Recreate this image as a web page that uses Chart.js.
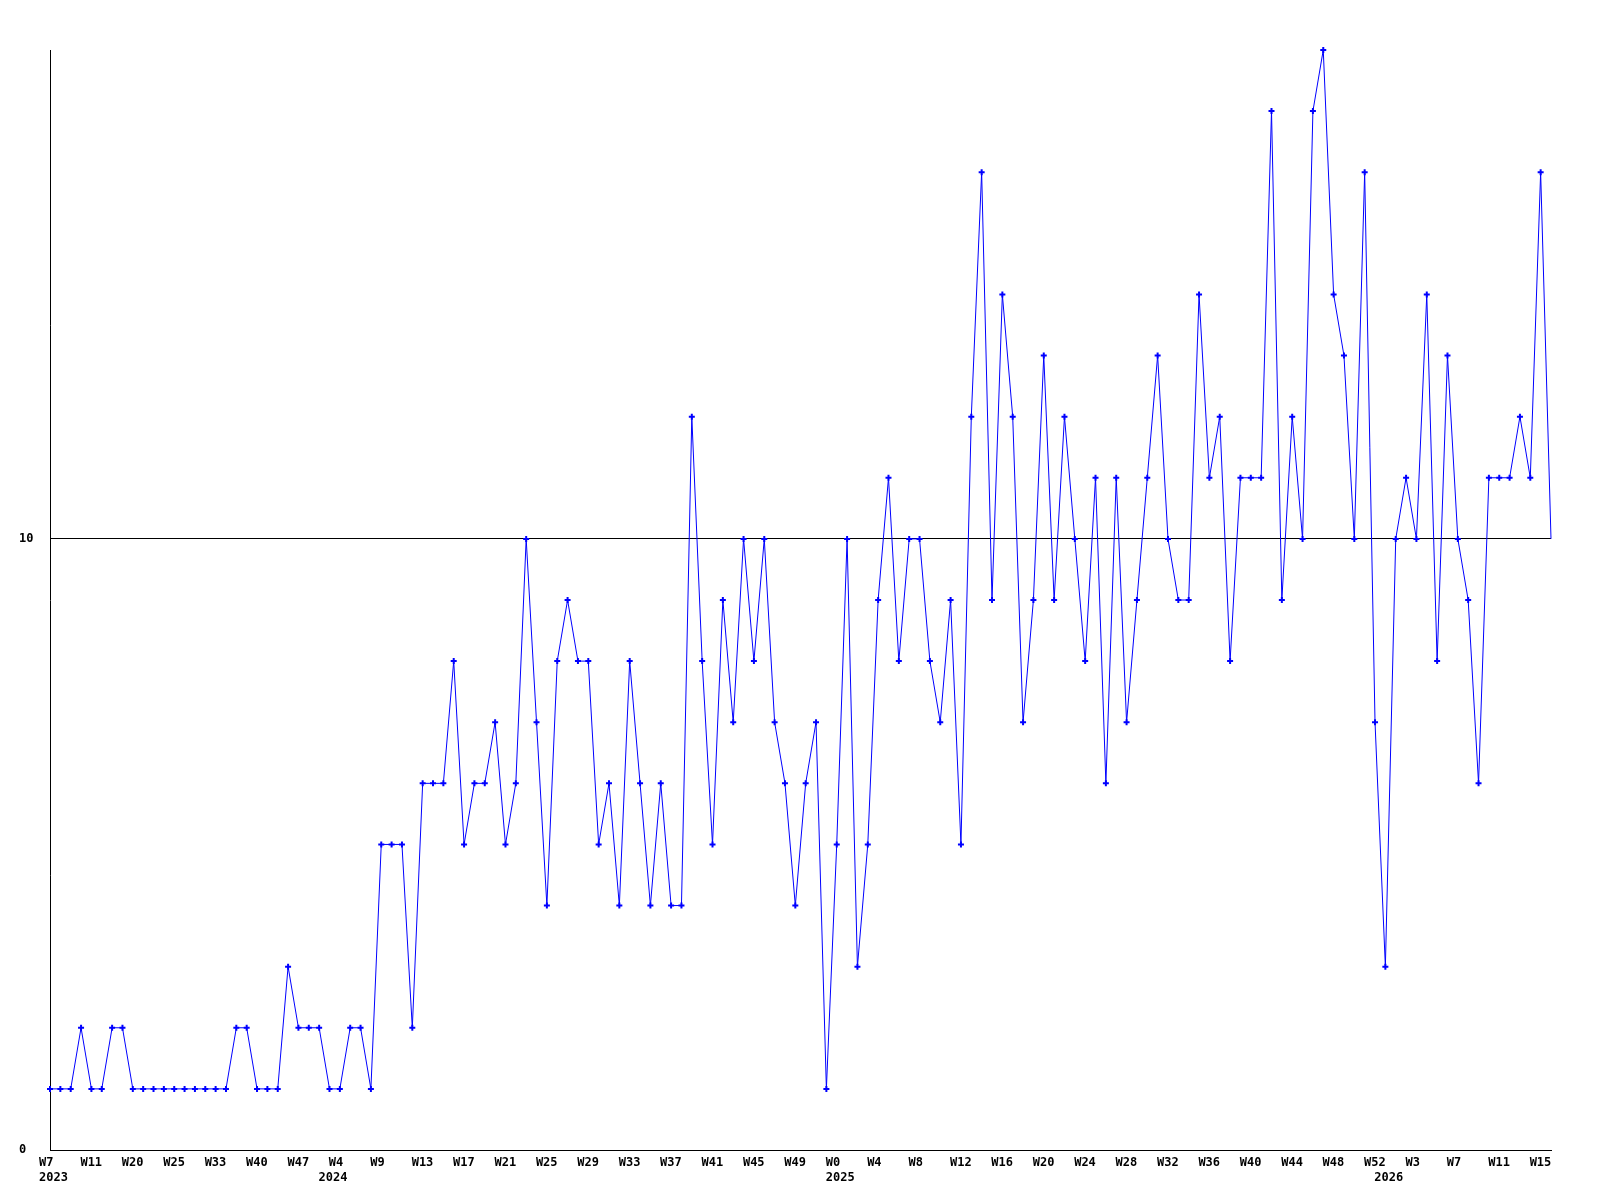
<!DOCTYPE html>
<html>
<head>
<meta charset="utf-8">
<script src="https://cdn.jsdelivr.net/npm/chart.js@4/dist/chart.umd.min.js"></script>
<style>
  html, body { margin: 0; padding: 0; background: #ffffff; }
  #wrap { width: 1600px; height: 1200px; }
</style>
</head>
<body>
<div id="wrap"><canvas id="c" width="1600" height="1200"></canvas></div>
<script>
// Categories: year-week of each data point
const categories = [
  "2023-W7","2023-W8","2023-W9","2023-W10","2023-W11","2023-W13","2023-W15","2023-W17","2023-W20","2023-W21",
  "2023-W22","2023-W23","2023-W25","2023-W27","2023-W29","2023-W31","2023-W33","2023-W35","2023-W37","2023-W38",
  "2023-W40","2023-W42","2023-W44","2023-W45","2023-W47","2023-W49","2023-W51",
  "2024-W2","2024-W4","2024-W5","2024-W6","2024-W8","2024-W9","2024-W10","2024-W11","2024-W12","2024-W13",
  "2024-W14","2024-W15","2024-W16","2024-W17","2024-W18","2024-W19","2024-W20","2024-W21","2024-W22","2024-W23",
  "2024-W24","2024-W25","2024-W26","2024-W27","2024-W28","2024-W29","2024-W30","2024-W31","2024-W32","2024-W33",
  "2024-W34","2024-W35","2024-W36","2024-W37","2024-W38","2024-W39","2024-W40","2024-W41","2024-W42","2024-W43",
  "2024-W44","2024-W45","2024-W46","2024-W47","2024-W48","2024-W49","2024-W50","2024-W51","2024-W52",
  "2025-W0","2025-W1","2025-W2","2025-W3","2025-W4","2025-W5","2025-W6","2025-W7","2025-W8","2025-W9",
  "2025-W10","2025-W11","2025-W12","2025-W13","2025-W14","2025-W15","2025-W16","2025-W17","2025-W18","2025-W19",
  "2025-W20","2025-W21","2025-W22","2025-W23","2025-W24","2025-W25","2025-W26","2025-W27","2025-W28","2025-W29",
  "2025-W30","2025-W31","2025-W32","2025-W33","2025-W34","2025-W35","2025-W36","2025-W37","2025-W38","2025-W39",
  "2025-W40","2025-W41","2025-W42","2025-W43","2025-W44","2025-W45","2025-W46","2025-W47","2025-W48","2025-W49",
  "2025-W50","2025-W51","2025-W52",
  "2026-W0","2026-W1","2026-W2","2026-W3","2026-W4","2026-W5","2026-W6","2026-W7","2026-W8","2026-W9",
  "2026-W10","2026-W11","2026-W12","2026-W13","2026-W14","2026-W15","2026-W16"
];

// Series values (weekly counts)
const values = [
  1,1,1,2,1,1,2,2,1,1,
  1,1,1,1,1,1,1,1,2,2,
  1,1,1,3,2,2,2,1,1,2,
  2,1,5,5,5,2,6,6,6,8,
  5,6,6,7,5,6,10,7,4,8,
  9,8,8,5,6,4,8,6,4,6,
  4,4,12,8,5,9,7,10,8,10,
  7,6,4,6,7,1,5,10,3,5,
  9,11,8,10,10,8,7,9,5,12,
  16,9,14,12,7,9,13,9,12,10,
  8,11,6,11,7,9,11,13,10,9,
  9,14,11,12,8,11,11,11,17,9,
  12,10,17,18,14,13,10,16,7,3,
  10,11,10,14,8,13,10,9,6,11,
  11,11,12,11,16,10
];

// Y-axis tick labels shown
const yTickValues = [0, 10];
const yMin = 0;
const yMax = 18;

const FONT = "'DejaVu Sans Mono', 'Liberation Mono', monospace";
const labelEvery = 4;

function weekOf(cat) { return cat.split('-')[1]; }
function yearOf(cat) { return cat.split('-')[0]; }
function isFirstOfYear(i) { return i === 0 || yearOf(categories[i]) !== yearOf(categories[i - 1]); }

new Chart(document.getElementById('c'), {
  type: 'line',
  data: {
    labels: categories,
    datasets: [{
      data: values,
      borderColor: '#0000ff',
      backgroundColor: '#0000ff',
      borderWidth: 1,
      tension: 0,
      fill: false,
      clip: false,
      pointStyle: 'cross',
      pointRadius: (ctx) => ctx.dataIndex === values.length - 1 ? 0 : 3,
      pointBorderWidth: 2,
      pointBorderColor: '#0000ff',
      pointBackgroundColor: '#0000ff'
    }]
  },
  options: {
    responsive: false,
    animation: false,
    devicePixelRatio: 1,
    layout: { padding: { left: 19, right: 49, top: 50, bottom: 0 } },
    plugins: { legend: { display: false }, tooltip: { enabled: false } },
    scales: {
      x: {
        type: 'category',
        offset: false,
        grid: { display: false, drawTicks: false },
        border: { display: true, color: '#000000', width: 1 },
        ticks: {
          autoSkip: false,
          maxRotation: 0,
          minRotation: 0,
          align: 'start',
          labelOffset: -11,
          padding: 5,
          color: '#000000',
          font: { family: FONT, size: 12, weight: 'bold', lineHeight: 1.25 },
          callback: function (value, index) {
            const cat = categories[index];
            const wk = index % labelEvery === 0 ? weekOf(cat) : '';
            if (isFirstOfYear(index)) return [wk, yearOf(cat)];
            return wk;
          }
        },
        afterFit: (s) => { s.height = 50; }
      },
      y: {
        min: yMin,
        max: yMax,
        grid: { color: '#000000', lineWidth: 1, drawTicks: false },
        border: { display: true, color: '#000000', width: 1 },
        ticks: {
          stepSize: 10,
          crossAlign: 'far',
          padding: 16,
          color: '#000000',
          font: { family: FONT, size: 12, weight: 'bold' }
        },
        afterBuildTicks: (s) => { s.ticks = s.ticks.filter(t => yTickValues.includes(t.value)); },
        afterFit: (s) => { s.width = 31; }
      }
    }
  }
});
</script>
</body>
</html>
